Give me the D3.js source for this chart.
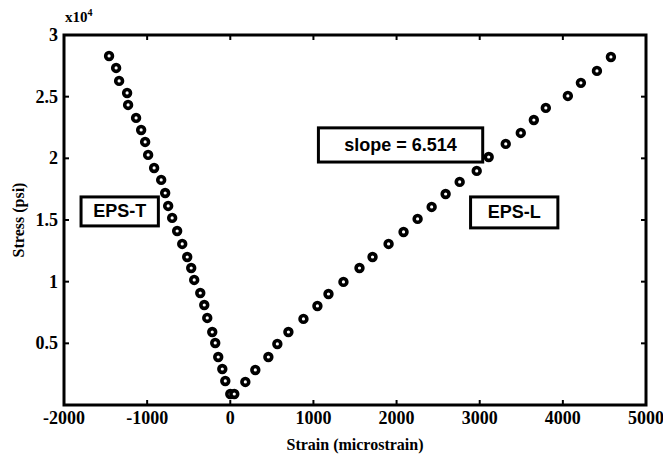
<!DOCTYPE html>
<html>
<head>
<meta charset="utf-8">
<script src="https://cdn.jsdelivr.net/npm/d3@7"></script>
<style>
  body { margin: 0; background: #fff; }
  svg { display: block; }
</style>
</head>
<body>
<svg id="chart" width="663" height="456"></svg>
<script>
// EPS-T (transverse) readings
const transStrain = [0, -60, -96, -145, -181, -217, -277, -313, -361, -434, -470, -518, -578, -639,
  -699, -747, -783, -831, -916, -988, -1024, -1072, -1133, -1229, -1241, -1337, -1373, -1458];
const transStress = [890, 1950, 2920, 3890, 5030, 5920, 7060, 8110, 9080, 10140, 11110, 12000, 13060, 14110,
  15170, 16140, 17190, 18250, 19220, 20280, 21330, 22300, 23280, 24330, 25300, 26280, 27330, 28300];

// EPS-L (longitudinal) readings
const longStrain = [48, 181, 301, 458, 566, 699, 880, 1048, 1181, 1361, 1554, 1711, 1904, 2084,
  2253, 2422, 2590, 2759, 2964, 3108, 3313, 3494, 3651, 3795, 4060, 4217, 4410, 4578];
const longStress = [890, 1870, 2840, 3890, 4950, 5920, 6980, 8030, 9000, 9980, 11110, 12000, 13060, 14030,
  15090, 16060, 17110, 18090, 18980, 20110, 21170, 22060, 23110, 24090, 25060, 26120, 27090, 28220];

const xTicks = [-2000, -1000, 0, 1000, 2000, 3000, 4000, 5000];
const yTicks = [5000, 10000, 15000, 20000, 25000, 30000];
const yTickLabels = ["0.5", "1", "1.5", "2", "2.5", "3"];

// text boxes: [label, x0, x1, y0, y1] in data units
const notes = [
  ["slope = 6.514", 1060, 3036, 22470, 19700],
  ["EPS-T", -1795, -865, 16870, 14520],
  ["EPS-L", 2890, 3940, 16870, 14360]
];

const svg = d3.select("#chart");
const x = d3.scaleLinear().domain([-2000, 5000]).range([64, 646]);
const y = d3.scaleLinear().domain([0, 30000]).range([405, 35]);
const serif = "'Liberation Serif', 'Times New Roman', serif";
const sans = "'Liberation Sans', Arial, sans-serif";

// frame
svg.append("rect")
  .attr("x", x(-2000)).attr("y", y(30000))
  .attr("width", x(5000) - x(-2000)).attr("height", y(0) - y(30000))
  .attr("fill", "none").attr("stroke", "#000").attr("stroke-width", 3);

// inward ticks on all four sides
const tl = 5;
const ticks = svg.append("g").attr("stroke", "#000").attr("stroke-width", 2);
xTicks.slice(1, -1).forEach(v => {
  ticks.append("line").attr("x1", x(v)).attr("x2", x(v)).attr("y1", y(0)).attr("y2", y(0) - tl);
  ticks.append("line").attr("x1", x(v)).attr("x2", x(v)).attr("y1", y(30000)).attr("y2", y(30000) + tl);
});
yTicks.slice(0, -1).forEach(v => {
  ticks.append("line").attr("x1", x(-2000)).attr("x2", x(-2000) + tl).attr("y1", y(v)).attr("y2", y(v));
  ticks.append("line").attr("x1", x(5000)).attr("x2", x(5000) - tl).attr("y1", y(v)).attr("y2", y(v));
});

// tick labels
svg.append("g").selectAll("text").data(xTicks).join("text")
  .attr("x", d => x(d)).attr("y", y(0) + 19)
  .attr("text-anchor", "middle")
  .style("font-family", serif).style("font-weight", "bold").style("font-size", "18px")
  .text(d => d);

svg.append("g").selectAll("text").data(yTicks).join("text")
  .attr("x", x(-2000) - 6).attr("y", d => y(d) + 6)
  .attr("text-anchor", "end")
  .style("font-family", serif).style("font-weight", "bold").style("font-size", "18px")
  .text((d, i) => yTickLabels[i]);

// exponent
const ex = svg.append("text").attr("x", x(-2000) + 1).attr("y", 22)
  .style("font-family", serif).style("font-weight", "bold").style("font-size", "15px");
ex.append("tspan").text("x10");
ex.append("tspan").attr("dy", -6).style("font-size", "10px").text("4");

// axis titles
svg.append("text")
  .attr("x", (x(-2000) + x(5000)) / 2).attr("y", 450)
  .attr("text-anchor", "middle")
  .style("font-family", serif).style("font-weight", "bold").style("font-size", "16px")
  .text("Strain (microstrain)");

svg.append("text")
  .attr("transform", `translate(24,${(y(0) + y(30000)) / 2}) rotate(-90)`)
  .attr("text-anchor", "middle")
  .style("font-family", serif).style("font-weight", "bold").style("font-size", "16px")
  .text("Stress (psi)");

// markers
function drawSeries(xs, ys) {
  svg.append("g").selectAll("circle").data(xs).join("circle")
    .attr("cx", d => x(d)).attr("cy", (d, i) => y(ys[i]))
    .attr("r", 3.4)
    .attr("fill", "#fff").attr("stroke", "#000").attr("stroke-width", 3.6);
}
drawSeries(transStrain, transStress);
drawSeries(longStrain, longStress);

// annotation boxes
notes.forEach(([label, x0, x1, y0, y1]) => {
  svg.append("rect")
    .attr("x", x(x0)).attr("y", y(y0))
    .attr("width", x(x1) - x(x0)).attr("height", y(y1) - y(y0))
    .attr("fill", "#fff").attr("stroke", "#000").attr("stroke-width", 3);
  svg.append("text")
    .attr("x", (x(x0) + x(x1)) / 2).attr("y", (y(y0) + y(y1)) / 2 + 6)
    .attr("text-anchor", "middle")
    .style("font-family", sans).style("font-weight", "bold").style("font-size", "18px")
    .text(label);
});
</script>
</body>
</html>
